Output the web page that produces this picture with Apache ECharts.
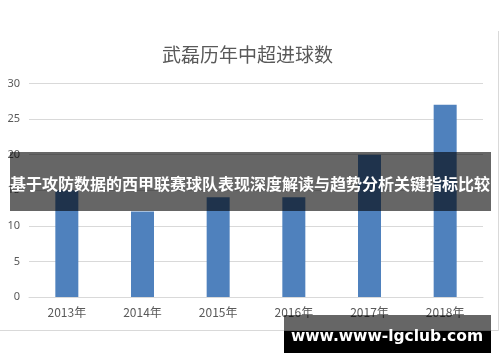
<!DOCTYPE html>
<html><head><meta charset="utf-8">
<script src="https://cdn.jsdelivr.net/npm/echarts@6/dist/echarts.min.js"></script>
<style>html,body{margin:0;padding:0;background:#fff;}#c{width:500px;height:362px;}</style>
</head><body><div id="c"></div>
<script>
var chartTitle = '武磊历年中超进球数';
var categories = ['2013年', '2014年', '2015年', '2016年', '2017年', '2018年'];
var goals = [15, 12, 14, 14, 20, 27];
var yTicks = { min: 0, max: 30, interval: 5 };
var bannerText = '基于攻防数据的西甲联赛球队表现深度解读与趋势分析关键指标比较';
var watermarkText = 'www.www-lgclub.com';

var chart = echarts.init(document.getElementById('c'), null, { renderer: 'canvas' });
chart.setOption({
  animation: false,
  backgroundColor: '#fff',
  title: {
    text: chartTitle, left: 157, top: 40,
    textStyle: { fontFamily: 'Noto Sans CJK SC', fontSize: 19, fontWeight: 'normal', color: '#595959' }
  },
  grid: { left: 29, right: 17, top: 83.5, bottom: 65 },
  xAxis: {
    type: 'category', data: categories,
    axisLine: { show: true, lineStyle: { color: '#d9d9d9' } },
    axisTick: { show: false },
    axisLabel: { color: '#595959', fontSize: 12, fontFamily: 'Noto Sans CJK SC', margin: 9 }
  },
  yAxis: {
    type: 'value', min: yTicks.min, max: yTicks.max, interval: yTicks.interval,
    axisLine: { show: false }, axisTick: { show: false },
    splitLine: { lineStyle: { color: '#d9d9d9' } },
    axisLabel: { color: '#595959', fontSize: 11, fontFamily: 'Noto Sans', margin: 9 }
  },
  series: [{
    type: 'bar', data: goals, barWidth: 23,
    itemStyle: { color: '#4f81bd' }
  }],
  graphic: [
    { type: 'line', z: 1, shape: { x1: 0, y1: 330.5, x2: 498.5, y2: 330.5 }, style: { stroke: '#d9d9d9', lineWidth: 1 } },
    { type: 'line', z: 1, shape: { x1: 498.5, y1: 31, x2: 498.5, y2: 330.5 }, style: { stroke: '#d9d9d9', lineWidth: 1 } },
    { type: 'rect', z: 100, shape: { x: 10, y: 152, width: 481, height: 59 }, style: { fill: 'rgba(0,0,0,0.6)' } },
    { type: 'text', z: 101, x: 250, y: 184, style: { text: bannerText, fill: '#fff', font: 'bold 16px "Noto Sans CJK SC"', textAlign: 'center', textVerticalAlign: 'middle' } },
    { type: 'rect', z: 100, shape: { x: 284, y: 315, width: 207, height: 16 }, style: { fill: 'rgba(0,0,0,0.6)' } },
    { type: 'rect', z: 100, shape: { x: 284, y: 331, width: 207, height: 22 }, style: { fill: '#000' } },
    { type: 'text', z: 101, x: 387, y: 337, style: { text: watermarkText, fill: '#fff', font: 'bold 15.5px "DejaVu Sans"', textAlign: 'center', textVerticalAlign: 'middle' } }
  ]
});
</script></body></html>
